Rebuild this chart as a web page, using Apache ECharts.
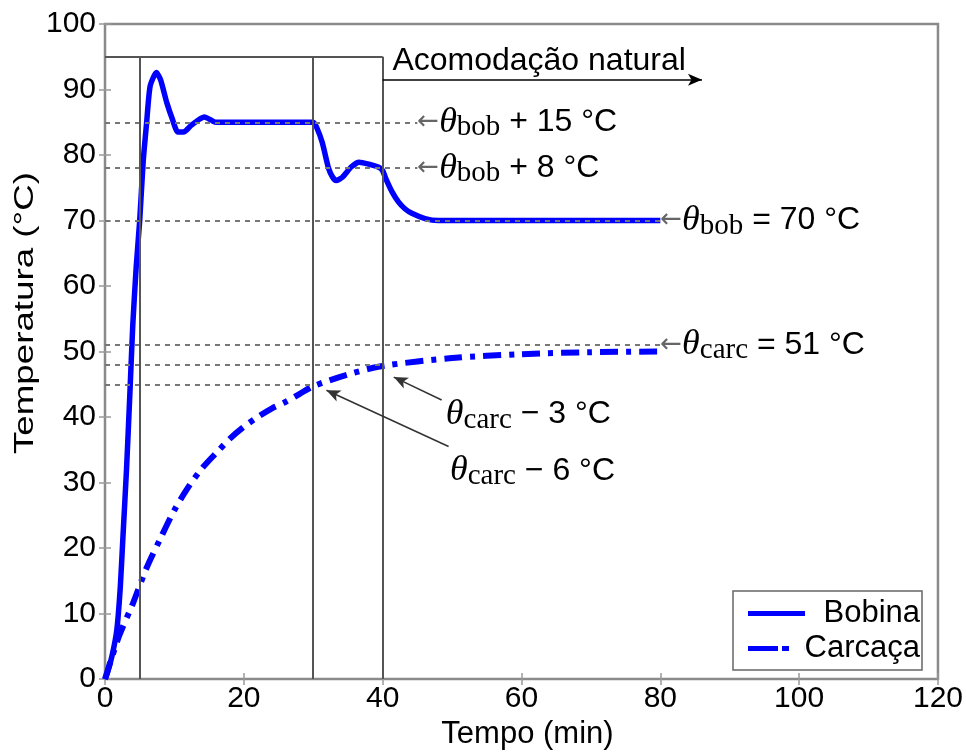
<!DOCTYPE html>
<html>
<head>
<meta charset="utf-8">
<script src="https://cdn.jsdelivr.net/npm/echarts@6/dist/echarts.min.js"></script>
<style>
  html, body { margin: 0; padding: 0; background: #fff; }
  #chart { width: 966px; height: 755px; }
</style>
</head>
<body>
<div id="chart"></div>
<script>
// Bobina (winding) temperature
var bobTime = [0, 0.3, 1.0, 1.7, 2.2, 2.6, 3.1, 3.6, 4.0, 4.5, 5.0, 5.5, 6.0, 6.5, 7.4, 8.0, 8.9, 9.7, 10.5, 11.5, 12.5, 14.3, 15.5, 16, 30, 30.5, 31.3, 32.2, 32.8, 33.3, 34.2, 35.5, 36.6, 38, 39.5, 40.0, 40.5, 41.4, 42.3, 43.2, 44.2, 46.1, 48, 80];
var bobTemp = [0, 0.8, 3.5, 7.5, 14, 22, 32, 44, 54, 63, 70, 79, 85, 90.5, 92.6, 91.5, 88, 85.5, 83.5, 83.6, 84.6, 85.8, 85.2, 85, 85, 84.2, 81.9, 78, 76.6, 76.1, 76.6, 78.2, 78.9, 78.6, 78.1, 77.6, 76.3, 74.3, 72.8, 71.8, 71.1, 70.3, 70, 70];

// Carcaça (frame) temperature
var carcTime = [0, 2, 4, 6, 8, 10, 12, 14, 16, 18, 20, 22, 24, 26, 28, 30, 35, 40, 50, 60, 70, 80];
var carcTemp = [0, 6.5, 11.5, 17, 21.5, 25.8, 29.3, 32.2, 34.5, 36.7, 38.5, 40, 41.3, 42.3, 43.5, 44.7, 46.5, 47.8, 49, 49.6, 49.9, 50];

// reference levels (dotted lines) and where they stop
var refLevels = [85, 78, 70, 51, 48, 45];
var refEnds = [45, 45, 80, 80, 40, 30];

// stage boundaries (vertical lines)
var stageTimes = [5, 30, 40];
var stageTop = 95;

var xTicks = { min: 0, max: 120, step: 20 };
var yTicks = { min: 0, max: 100, step: 10 };

function pairs(xs, ys) {
  return xs.map(function (x, i) { return [x, ys[i]]; });
}

var sans = 'Liberation Sans, Arial, Helvetica, sans-serif';
var serif = 'Liberation Serif, DejaVu Serif, serif';

var rich = {
  a: { color: '#666', fontSize: 26, fontFamily: 'DejaVu Sans', lineHeight: 40 },
  th: { color: '#000', fontSize: 36, fontFamily: serif, fontStyle: 'italic', lineHeight: 40 },
  sub: { color: '#000', fontSize: 29, fontFamily: serif, lineHeight: 24, verticalAlign: 'bottom' },
  t: { color: '#000', fontSize: 32, fontFamily: sans, lineHeight: 40 },
  r: { color: '#000', fontSize: 31, fontFamily: sans, width: 110, align: 'right' }
};

var refLabels = [
  '{a|←}{th|θ}{sub|bob}{t| + 15 °C}',
  '{a|←}{th|θ}{sub|bob}{t| + 8 °C}',
  '{a|←}{th|θ}{sub|bob}{t| = 70 °C}',
  '{a|←}{th|θ}{sub|carc}{t| = 51 °C}',
  '',
  ''
];

var lines = [];
refLevels.forEach(function (lv, i) {
  var endPt = { coord: [refEnds[i], lv] };
  if (refLabels[i]) {
    endPt.label = { show: true, position: 'end', distance: 0, formatter: refLabels[i], rich: rich };
  }
  lines.push([{ coord: [0, lv] }, endPt]);
});

var solidStyle = { type: 'solid', color: '#555', width: 2 };
stageTimes.forEach(function (t) {
  lines.push([{ coord: [t, 0], lineStyle: solidStyle }, { coord: [t, stageTop] }]);
});
lines.push([{ coord: [0, stageTop], lineStyle: solidStyle }, { coord: [40, stageTop] }]);

// arrow under "Acomodação natural"
lines.push([
  { coord: [40, 91.5], lineStyle: { type: 'solid', color: '#000', width: 1.5 } },
  { coord: [86, 91.5], symbol: 'arrow', symbolSize: [9, 14] }
]);
// arrows pointing at the carcass curve
lines.push([
  { coord: [48.5, 42.6], lineStyle: { type: 'solid', color: '#333', width: 1.5 } },
  { coord: [41.6, 46.1], symbol: 'arrow', symbolSize: [9, 14] }
]);
lines.push([
  { coord: [49.5, 35.5], lineStyle: { type: 'solid', color: '#333', width: 1.5 } },
  { coord: [31.9, 44.1], symbol: 'arrow', symbolSize: [9, 14] }
]);

var notes = [
  { coord: [41.4, 94.3], text: 'Acomodação natural' },
  { coord: [49.1, 40.4], text: '{th|θ}{sub|carc}{t| − 3 °C}' },
  { coord: [49.7, 31.8], text: '{th|θ}{sub|carc}{t| − 6 °C}' }
];

var chart = echarts.init(document.getElementById('chart'));

var option = {
  animation: false,
  backgroundColor: '#fff',
  textStyle: { fontFamily: sans },
  grid: {
    left: 105, right: 24, top: 24, bottom: 71,
    show: true, borderColor: '#8a8a8a', borderWidth: 2.5, backgroundColor: '#fff'
  },
  graphic: [{
    type: 'text',
    x: 26, y: 313,
    rotation: Math.PI / 2,
    scaleX: 1.36,
    style: {
      text: 'Temperatura (°C)',
      fontSize: 27, fontFamily: sans, fill: '#000',
      align: 'center', verticalAlign: 'middle'
    }
  }],
  legend: {
    data: [
      { name: 'Bobina', icon: 'path://M0,0H57V5H0Z' },
      { name: 'Carcaça', icon: 'path://M0,0H30V5H0Z M34,0H41V5H34Z M56.9,0H57V5H56.9Z' }
    ],
    orient: 'vertical',
    right: 44, bottom: 85,
    backgroundColor: '#fff',
    borderColor: '#666', borderWidth: 1.5, borderRadius: 0,
    padding: [5, 2, 4, 15],
    itemWidth: 57, itemHeight: 5, itemGap: 0,
    formatter: function (name) { return '{r|' + name + '}'; },
    textStyle: { fontSize: 31, color: '#000', fontFamily: sans, lineHeight: 35, rich: rich }
  },
  xAxis: [{
    type: 'value', min: xTicks.min, max: xTicks.max, interval: xTicks.step,
    name: 'Tempo (min)', nameLocation: 'middle', nameGap: 36,
    nameTextStyle: { fontSize: 31, color: '#000', fontFamily: sans, padding: [3, 0, 0, 12] },
    axisLine: { show: false },
    axisTick: { inside: true, length: 6, lineStyle: { color: '#999', width: 1.5 } },
    axisLabel: { fontSize: 30, color: '#000', margin: 5 },
    splitLine: { show: false }
  }, {
    type: 'value', position: 'top', min: xTicks.min, max: xTicks.max, interval: xTicks.step,
    axisLine: { show: false },
    axisTick: { inside: true, length: 6, lineStyle: { color: '#999', width: 1.5 } },
    axisLabel: { show: false },
    splitLine: { show: false }
  }],
  yAxis: [{
    type: 'value', min: yTicks.min, max: yTicks.max, interval: yTicks.step,
    axisLine: { show: false },
    axisTick: { inside: true, length: 6, lineStyle: { color: '#999', width: 1.5 } },
    axisLabel: { fontSize: 30, color: '#000', margin: 9 },
    splitLine: { show: false }
  }, {
    type: 'value', position: 'right', min: yTicks.min, max: yTicks.max, interval: yTicks.step,
    axisLine: { show: false },
    axisTick: { inside: true, length: 6, lineStyle: { color: '#999', width: 1.5 } },
    axisLabel: { show: false },
    splitLine: { show: false }
  }],
  series: [{
    name: 'ref',
    type: 'line',
    data: [],
    silent: true,
    z: 1,
    markLine: {
      silent: true,
      symbol: ['none', 'none'],
      lineStyle: { type: [5, 5], color: '#777', width: 2 },
      label: { show: false },
      data: lines
    },
    markPoint: {
      silent: true,
      symbol: 'circle',
      symbolSize: 0,
      data: notes.map(function (n) {
        return {
          coord: n.coord,
          label: { show: true, position: 'right', distance: 0, formatter: n.text, color: '#000', fontSize: 32, fontFamily: sans, rich: rich }
        };
      })
    }
  }, {
    name: 'Bobina',
    type: 'line',
    data: pairs(bobTime, bobTemp),
    symbol: 'none',
    smooth: 0.2,
    z: 3,
    color: '#0000ff',
    lineStyle: { color: '#0000ff', width: 5.5 }
  }, {
    name: 'Carcaça',
    type: 'line',
    data: pairs(carcTime, carcTemp),
    symbol: 'none',
    smooth: 0.3,
    z: 3,
    color: '#0000ff',
    lineStyle: { color: '#0000ff', width: 6, type: [18, 8, 5, 8] }
  }]
};

chart.setOption(option);
</script>
</body>
</html>
